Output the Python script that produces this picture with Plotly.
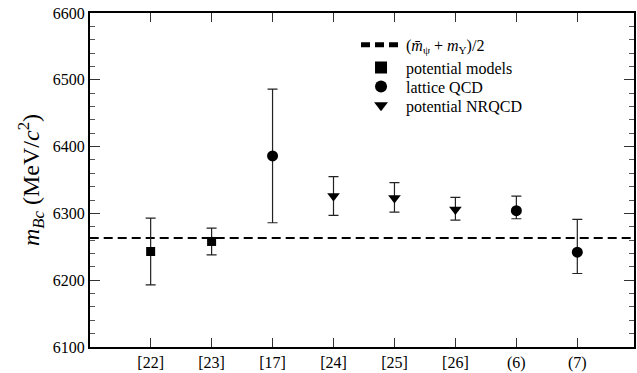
import plotly.graph_objects as go

categories = ["[22]", "[23]", "[17]", "[24]", "[25]", "[26]", "(6)", "(7)"]

# potential models
pm_idx = [0, 1]
pm_val = [6243, 6258]
pm_up = [50, 20]
pm_dn = [50, 20]

# lattice QCD
lq_idx = [2, 6, 7]
lq_val = [6386, 6304, 6242]
lq_up = [100, 22, 49]
lq_dn = [100, 12, 32]

# potential NRQCD
nr_idx = [3, 4, 5]
nr_val = [6326, 6323, 6306]
nr_up = [29, 23, 18]
nr_dn = [29, 21, 16]

avg_mass = 6263

FONT = "Times New Roman, Liberation Serif, DejaVu Serif, serif"

fig = go.Figure()

fig.add_trace(go.Scatter(
    x=[-1, 8], y=[avg_mass, avg_mass], mode="lines",
    line=dict(color="black", width=2, dash="9px,5px"),
    name="(<i>m\u0304</i><sub>\u03c8</sub> + <i>m</i><sub>\u03a5</sub>)/2",
    legend="legend",
))

def add_series(idx, val, up, dn, symbol, size, name, leg):
    fig.add_trace(go.Scatter(
        x=idx, y=val, mode="markers",
        marker=dict(symbol=symbol, size=size, color="black"),
        error_y=dict(type="data", symmetric=False, array=up, arrayminus=dn,
                     color="#222", thickness=1.2, width=5),
        name=name, legend=leg,
    ))

add_series(pm_idx, pm_val, pm_up, pm_dn, "square", 9, "potential models", "legend2")
add_series(lq_idx, lq_val, lq_up, lq_dn, "circle", 11, "lattice QCD", "legend3")
add_series(nr_idx, nr_val, nr_up, nr_dn, "triangle-down", 11, "potential NRQCD", "legend4")

PLOT_TOP, PLOT_BOTTOM, PLOT_LEFT, PLOT_W = 13, 349, 90, 546

def legend_at(ypix, xpix):
    return dict(x=(xpix - PLOT_LEFT) / PLOT_W, y=(PLOT_BOTTOM - ypix) / (PLOT_BOTTOM - PLOT_TOP),
                xanchor="left", yanchor="middle", bgcolor="rgba(0,0,0,0)",
                font=dict(family=FONT, size=16), itemwidth=40, itemsizing="constant")

LEG_X = 357

fig.update_layout(
    width=637, height=373,
    margin=dict(l=90, r=1, t=13, b=24),
    plot_bgcolor="white", paper_bgcolor="white",
    font=dict(family=FONT, size=16, color="black"),
    showlegend=True,
    legend=legend_at(45, LEG_X),
    legend2=legend_at(68, LEG_X),
    legend3=legend_at(87, LEG_X),
    legend4=legend_at(106, LEG_X),
    xaxis=dict(
        range=[-0.995, 7.93],
        tickmode="array", tickvals=list(range(len(categories))), ticktext=categories,
        ticks="inside", ticklen=9, tickwidth=1, tickcolor="#333",
        showline=True, linecolor="black", linewidth=2, mirror="allticks",
        showgrid=False, zeroline=False,
        tickfont=dict(family=FONT, size=16),
    ),
    yaxis=dict(
        range=[6100, 6600],
        tickmode="linear", tick0=6100, dtick=100,
        ticks="inside", ticklen=10, tickwidth=1, tickcolor="#333",
        showline=True, linecolor="black", linewidth=2, mirror="allticks",
        showgrid=False, zeroline=False,
        tickfont=dict(family=FONT, size=16),
        minor=dict(dtick=20, ticks="inside", ticklen=5, tickcolor="#555", showgrid=False),
        title=dict(text="<i>m</i><sub><i>Bc</i></sub> (MeV/<i>c</i><sup>2</sup>)",
                   font=dict(family=FONT, size=24), standoff=6),
    ),
)

fig.write_html("out.html", config={"displayModeBar": False},
               post_script="document.body.style.margin='0';document.body.style.overflow='hidden';")
